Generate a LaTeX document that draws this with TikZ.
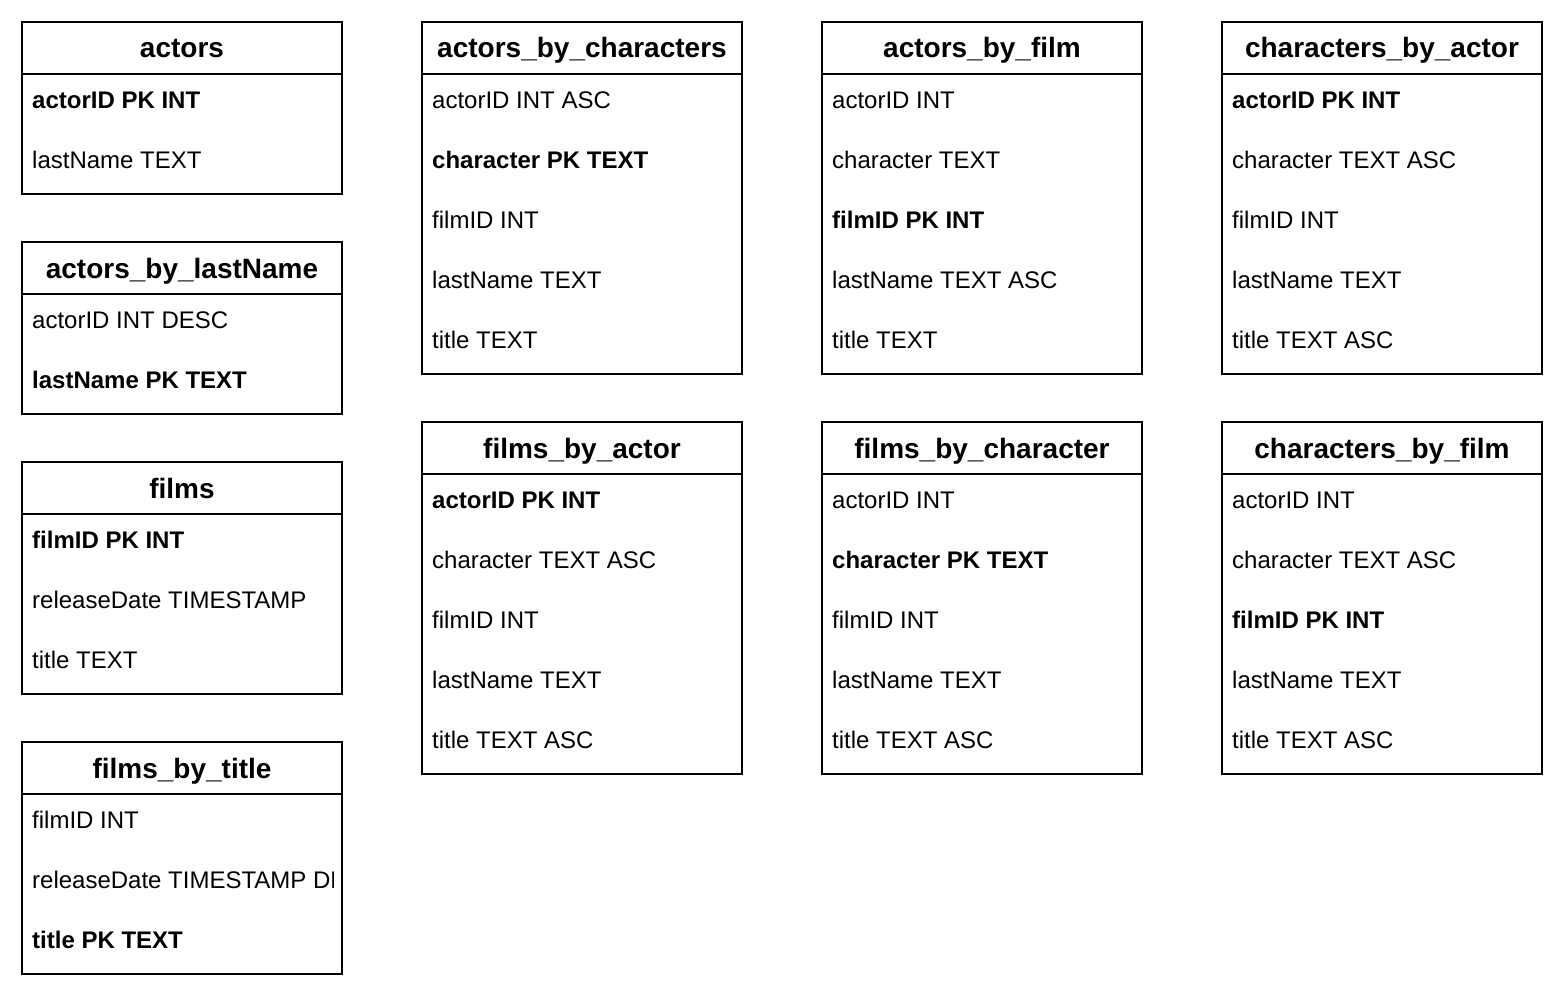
\documentclass[tikz,border=0pt]{standalone}
\usepackage{fontspec}
\setmainfont{Liberation Sans}
\tikzset{
 hdr/.style={draw, line width=2pt, minimum width=320pt, minimum height=52pt, inner sep=0pt, anchor=north west,
   font=\fontsize{28}{32}\selectfont\bfseries, text height=20pt, text depth=0pt},
 tbody/.style={draw, line width=2pt, minimum width=320pt, inner sep=0pt, anchor=north west},
 rowtxt/.style={anchor=west, inner sep=0pt, font=\fontsize{24}{28}\selectfont, text height=17.2pt, text depth=0pt},
 pktxt/.style={rowtxt, font=\fontsize{24}{28}\selectfont\bfseries}
}
\newcommand\tablebox[5]{%
 \node[hdr] (#1) at (#2,#3) {#4};
 \node[tbody, minimum height=#5*60pt] (#1-body) at (#2,#3+52) {};
}
\begin{document}
\begin{tikzpicture}[x=1pt,y=-1pt]
\useasboundingbox (0,0) rectangle (1562,1000);
% column 1
\tablebox{actors}{21}{21}{actors}{2}
\node[pktxt] (actors-r1) at (32,100) {actorID PK INT};
\node[rowtxt] (actors-r2) at (32,160) {lastName TEXT};

\tablebox{abl}{21}{241}{actors\_by\_lastName}{2}
\node[rowtxt] (abl-r1) at (32,320) {actorID INT DESC};
\node[pktxt] (abl-r2) at (32,380) {lastName PK TEXT};

\tablebox{films}{21}{461}{films}{3}
\node[pktxt] (films-r1) at (32,540) {filmID PK INT};
\node[rowtxt] (films-r2) at (32,600) {releaseDate TIMESTAMP};
\node[rowtxt] (films-r3) at (32,660) {title TEXT};

\tablebox{fbt}{21}{741}{films\_by\_title}{3}
\node[rowtxt] (fbt-r1) at (32,820) {filmID INT};
\begin{scope}
\clip (22,850) rectangle (333,910);
\node[rowtxt] (fbt-r2) at (32,880) {releaseDate TIMESTAMP DESC};
\end{scope}
\node[pktxt] (fbt-r3) at (32,940) {title PK TEXT};

% column 2
\tablebox{abc}{421}{21}{actors\_by\_characters}{5}
\node[rowtxt] (abc-r1) at (432,100) {actorID INT ASC};
\node[pktxt] (abc-r2) at (432,160) {character PK TEXT};
\node[rowtxt] (abc-r3) at (432,220) {filmID INT};
\node[rowtxt] (abc-r4) at (432,280) {lastName TEXT};
\node[rowtxt] (abc-r5) at (432,340) {title TEXT};

\tablebox{fba}{421}{421}{films\_by\_actor}{5}
\node[pktxt] (fba-r1) at (432,500) {actorID PK INT};
\node[rowtxt] (fba-r2) at (432,560) {character TEXT ASC};
\node[rowtxt] (fba-r3) at (432,620) {filmID INT};
\node[rowtxt] (fba-r4) at (432,680) {lastName TEXT};
\node[rowtxt] (fba-r5) at (432,740) {title TEXT ASC};

% column 3
\tablebox{abf}{821}{21}{actors\_by\_film}{5}
\node[rowtxt] (abf-r1) at (832,100) {actorID INT};
\node[rowtxt] (abf-r2) at (832,160) {character TEXT};
\node[pktxt] (abf-r3) at (832,220) {filmID PK INT};
\node[rowtxt] (abf-r4) at (832,280) {lastName TEXT ASC};
\node[rowtxt] (abf-r5) at (832,340) {title TEXT};

\tablebox{fbc}{821}{421}{films\_by\_character}{5}
\node[rowtxt] (fbc-r1) at (832,500) {actorID INT};
\node[pktxt] (fbc-r2) at (832,560) {character PK TEXT};
\node[rowtxt] (fbc-r3) at (832,620) {filmID INT};
\node[rowtxt] (fbc-r4) at (832,680) {lastName TEXT};
\node[rowtxt] (fbc-r5) at (832,740) {title TEXT ASC};

% column 4
\tablebox{cba}{1221}{21}{characters\_by\_actor}{5}
\node[pktxt] (cba-r1) at (1232,100) {actorID PK INT};
\node[rowtxt] (cba-r2) at (1232,160) {character TEXT ASC};
\node[rowtxt] (cba-r3) at (1232,220) {filmID INT};
\node[rowtxt] (cba-r4) at (1232,280) {lastName TEXT};
\node[rowtxt] (cba-r5) at (1232,340) {title TEXT ASC};

\tablebox{cbf}{1221}{421}{characters\_by\_film}{5}
\node[rowtxt] (cbf-r1) at (1232,500) {actorID INT};
\node[rowtxt] (cbf-r2) at (1232,560) {character TEXT ASC};
\node[pktxt] (cbf-r3) at (1232,620) {filmID PK INT};
\node[rowtxt] (cbf-r4) at (1232,680) {lastName TEXT};
\node[rowtxt] (cbf-r5) at (1232,740) {title TEXT ASC};
\end{tikzpicture}
\end{document}
